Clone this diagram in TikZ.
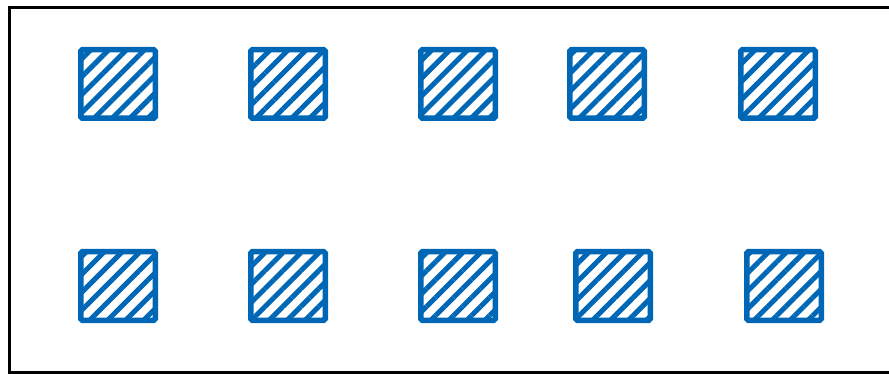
\documentclass[tikz,border=0pt]{standalone}
\usepackage{tikz}
\usepackage{xcolor}
\usetikzlibrary{positioning, patterns.meta}

\definecolor{padblue}{RGB}{0,103,182}

\begin{document}
\begin{tikzpicture}[
        x=1pt, y=-1pt,
        % gaps measured between pad outlines: 95.5pt across, 133.5pt down
        node distance=133.5pt and 95.5pt,
        pad/.style={draw=padblue, line width=5.5pt, rounded corners=1.5pt,
                    minimum width=74.5pt, minimum height=68.5pt,
                    inner sep=0pt, outer sep=0pt,
                    pattern={Lines[angle=45, distance=12.7pt, line width=5pt]},
                    pattern color=padblue},
        frame/.style={draw=black, line width=3.5pt}
    ]

    % --- Canvas ---
    \useasboundingbox (0,0) rectangle (889,374);
    \coordinate (fnw) at (9.5,7.5);
    \coordinate (fse) at (900,372.5);
    \draw[frame] (fnw) rectangle (fse);

    % --- Top row ---
    \node[pad] at (118,84) (T1) {};
    \node[pad, right=of T1] (T2) {};
    \node[pad, right=of T2] (T3) {};
    \node[pad, right=74.5pt of T3] (T4) {};
    \node[pad, right=96.5pt of T4] (T5) {};

    % --- Bottom row ---
    \node[pad, below=of T1] (B1) {};
    \node[pad, right=of B1] (B2) {};
    \node[pad, right=of B2] (B3) {};
    \node[pad, right=80.5pt of B3] (B4) {};
    \node[pad, right=96.5pt of B4] (B5) {};

\end{tikzpicture}
\end{document}
